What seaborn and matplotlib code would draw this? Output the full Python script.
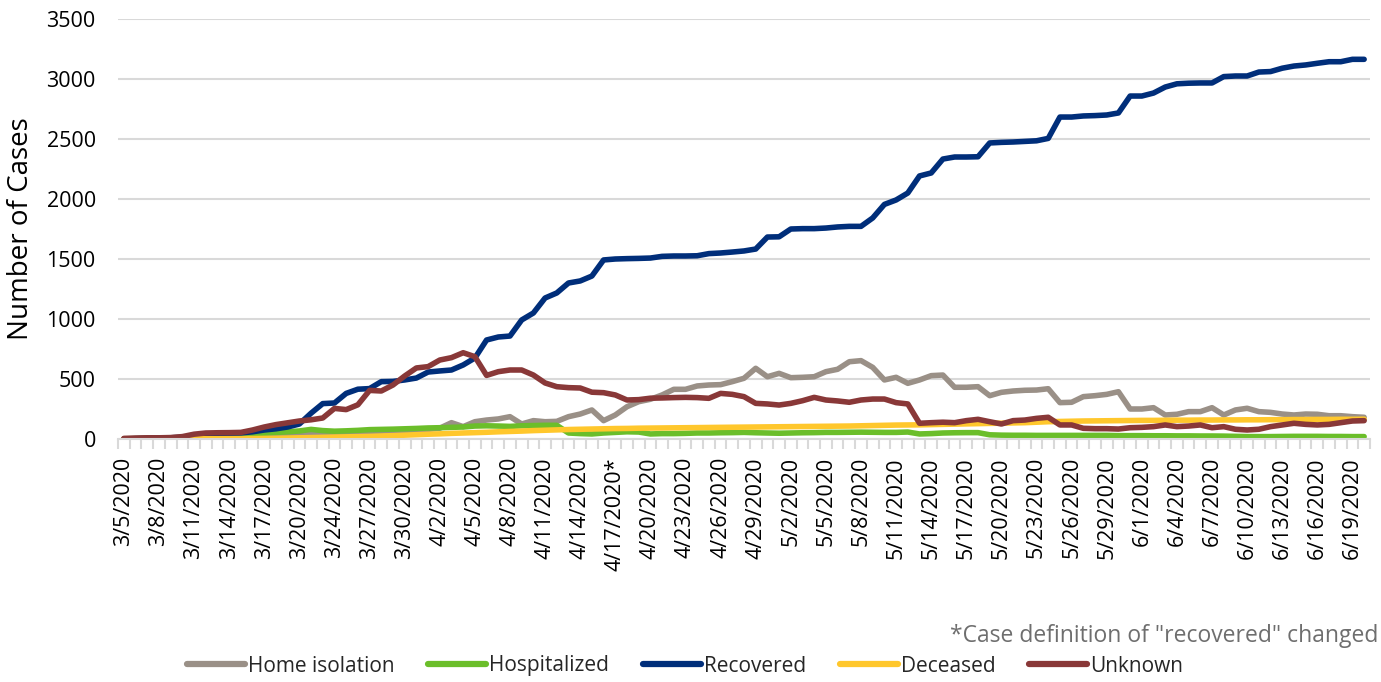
import matplotlib
matplotlib.use("Agg")
import matplotlib.pyplot as plt
import numpy as np
import pandas as pd
import seaborn as sns

# ---------------- data ----------------
all_days = pd.date_range("2020-03-05", "2020-06-20", freq="D")
all_days = [d for d in all_days if not (d.month == 3 and d.day == 22)]
dates = [f"{d.month}/{d.day}/{d.year}" for d in all_days]

series_names = ["Home isolation", "Hospitalized", "Recovered", "Deceased", "Unknown"]

home_isolation = [
    0, 0, 2, 3, 5, 5, 8, 10, 12, 15,
    18, 25, 30, 35, 40, 45, 55, 50, 50, 55,
    58, 62, 65, 68, 70, 75, 80, 90, 136, 103,
    144, 158, 167, 186, 125, 153, 144, 147, 186, 208,
    242, 153, 200, 269, 311, 331, 367, 414, 414, 442,
    450, 453, 478, 506, 589, 519, 547, 511, 514, 519,
    561, 581, 644, 653, 597, 492, 514, 464, 492, 528,
    533, 431, 431, 436, 361, 389, 400, 406, 408, 419,
    303, 306, 353, 361, 372, 394, 250, 250, 261, 200,
    206, 228, 228, 261, 200, 242, 256, 228, 222, 208,
    200, 208, 206, 194, 194, 186, 181,
]
hospitalized = [
    2, 3, 5, 6, 8, 10, 12, 15, 20, 25,
    30, 40, 48, 55, 60, 67, 80, 70, 65, 68,
    72, 78, 80, 82, 85, 88, 92, 94, 97, 100,
    108, 110, 108, 105, 110, 112, 114, 114, 50, 45,
    42, 50, 55, 60, 58, 42, 45, 45, 47, 50,
    50, 52, 53, 55, 52, 50, 48, 50, 52, 53,
    55, 55, 56, 57, 56, 55, 55, 58, 42, 45,
    50, 52, 53, 53, 35, 32, 31, 31, 30, 30,
    30, 30, 30, 30, 30, 28, 28, 28, 27, 27,
    26, 26, 25, 25, 24, 22, 20, 20, 20, 21,
    22, 22, 22, 21, 21, 20, 20,
]
recovered = [
    0, 3, 5, 8, 10, 15, 25, 40, 45, 48,
    50, 60, 75, 85, 100, 125, 215, 295, 300, 380,
    415, 420, 478, 480, 492, 508, 558, 567, 575, 617,
    675, 825, 850, 858, 992, 1050, 1175, 1217, 1300, 1317,
    1358, 1492, 1500, 1503, 1505, 1508, 1522, 1525, 1525, 1527,
    1545, 1550, 1558, 1567, 1583, 1683, 1685, 1750, 1753, 1753,
    1758, 1767, 1772, 1772, 1842, 1955, 1992, 2050, 2192, 2217,
    2333, 2350, 2350, 2352, 2467, 2472, 2475, 2480, 2485, 2505,
    2683, 2683, 2692, 2695, 2700, 2717, 2858, 2858, 2883, 2933,
    2960, 2965, 2967, 2967, 3020, 3025, 3025, 3058, 3062, 3090,
    3108, 3117, 3131, 3144, 3144, 3164, 3164,
]
deceased = [
    0, 0, 0, 1, 1, 1, 2, 2, 2, 3,
    3, 4, 5, 6, 8, 10, 12, 14, 16, 18,
    20, 22, 25, 28, 32, 36, 40, 43, 47, 50,
    53, 56, 60, 63, 66, 70, 73, 76, 79, 81,
    83, 85, 87, 88, 90, 91, 92, 93, 94, 95,
    96, 97, 98, 99, 100, 101, 102, 103, 104, 105,
    106, 107, 108, 110, 112, 114, 116, 117, 118, 120,
    122, 124, 126, 128, 130, 132, 134, 136, 140, 144,
    146, 148, 150, 151, 152, 153, 154, 155, 155, 156,
    157, 157, 158, 158, 159, 159, 160, 160, 161, 161,
    162, 162, 163, 163, 164, 164, 165,
]
unknown = [
    5, 8, 10, 10, 12, 20, 40, 50, 52, 53,
    55, 75, 100, 120, 135, 150, 160, 175, 255, 245,
    285, 405, 400, 450, 525, 592, 603, 658, 678, 719,
    686, 530, 561, 575, 575, 533, 467, 436, 428, 425,
    390, 386, 367, 325, 328, 340, 342, 345, 347, 345,
    339, 380, 372, 353, 297, 292, 283, 297, 319, 347,
    325, 317, 306, 325, 333, 333, 303, 292, 131, 136,
    140, 136, 153, 164, 144, 125, 153, 158, 172, 181,
    117, 117, 89, 86, 86, 83, 94, 97, 103, 117,
    103, 108, 117, 94, 103, 81, 75, 81, 103, 117,
    131, 122, 117, 122, 136, 150, 153,
]

colors = ["#9A9087", "#6BBE2A", "#002E7A", "#FFC72C", "#893838"]
y_ticks = [0, 500, 1000, 1500, 2000, 2500, 3000, 3500]
footnote = '*Case definition of "recovered" changed'
y_title = "Number of Cases"

# ---------------- frame ----------------
values = [home_isolation, hospitalized, recovered, deceased, unknown]
frames = []
for name, vals in zip(series_names, values):
    frames.append(pd.DataFrame({"idx": np.arange(len(vals)), "cases": vals, "series": name}))
df = pd.concat(frames, ignore_index=True)

sns.set_theme(style="white")
plt.rcParams["font.family"] = ["Open Sans", "DejaVu Sans"]

fig = plt.figure(figsize=(13.81, 6.82), dpi=100)
ax = fig.add_axes([118 / 1381, 1 - 439 / 682, (1370 - 118) / 1381, 420 / 682])

sns.lineplot(data=df, x="idx", y="cases", hue="series", hue_order=series_names,
             palette=dict(zip(series_names, colors)), linewidth=4.0, ax=ax,
             sort=False, estimator=None)
for ln in ax.get_lines():
    ln.set_solid_capstyle("round")
    ln.set_solid_joinstyle("round")

handles, labels = ax.get_legend_handles_labels()
ax.get_legend().remove()

n = len(dates)
ax.set_xlim(-0.5, n - 0.5)
ax.set_ylim(0, 3500)
ax.set_yticks(y_ticks)
ax.set_yticklabels([str(v) for v in y_ticks], fontsize=15.5, color="#000000")
ax.yaxis.grid(True, color="#D9D9D9", linewidth=1.5)
ax.xaxis.grid(False)
ax.set_axisbelow(True)
for s in ["left", "right", "top"]:
    ax.spines[s].set_visible(False)
ax.spines["bottom"].set_color("#D9D9D9")
ax.spines["bottom"].set_linewidth(1.5)
ax.tick_params(axis="y", length=0, pad=16)

xt = list(range(0, n, 3))
xl = []
for i in xt:
    lab = dates[i]
    if lab == "4/17/2020":
        lab = lab + "*"
    xl.append(lab)
ax.set_xticks(xt)
ax.set_xticklabels(xl, rotation=90, fontsize=15.5, color="#000000")
ax.set_xticks(np.arange(-0.5, n, 1), minor=True)
ax.tick_params(axis="x", which="major", length=0, pad=13)
ax.tick_params(axis="x", which="minor", length=7, width=1.5, color="#D9D9D9",
               direction="out", bottom=True)
ax.set_xlabel("")
ax.set_ylabel(y_title, fontsize=20, color="#000000")
ax.yaxis.set_label_coords(-0.066, 0.5)

fig.text(1378 / 1381, 1 - 636 / 682, footnote, ha="right", va="center",
         fontsize=16.5, color="#6E6E6E")

for h in handles:
    h.set_linewidth(4.5)
fig.legend(handles, labels, loc="center", bbox_to_anchor=(685 / 1381, 1 - 666 / 682),
           ncol=5, frameon=False, fontsize=15, handlelength=2.8, handletextpad=0.15,
           columnspacing=1.6, borderaxespad=0)

fig.savefig("out.png", dpi=100)
